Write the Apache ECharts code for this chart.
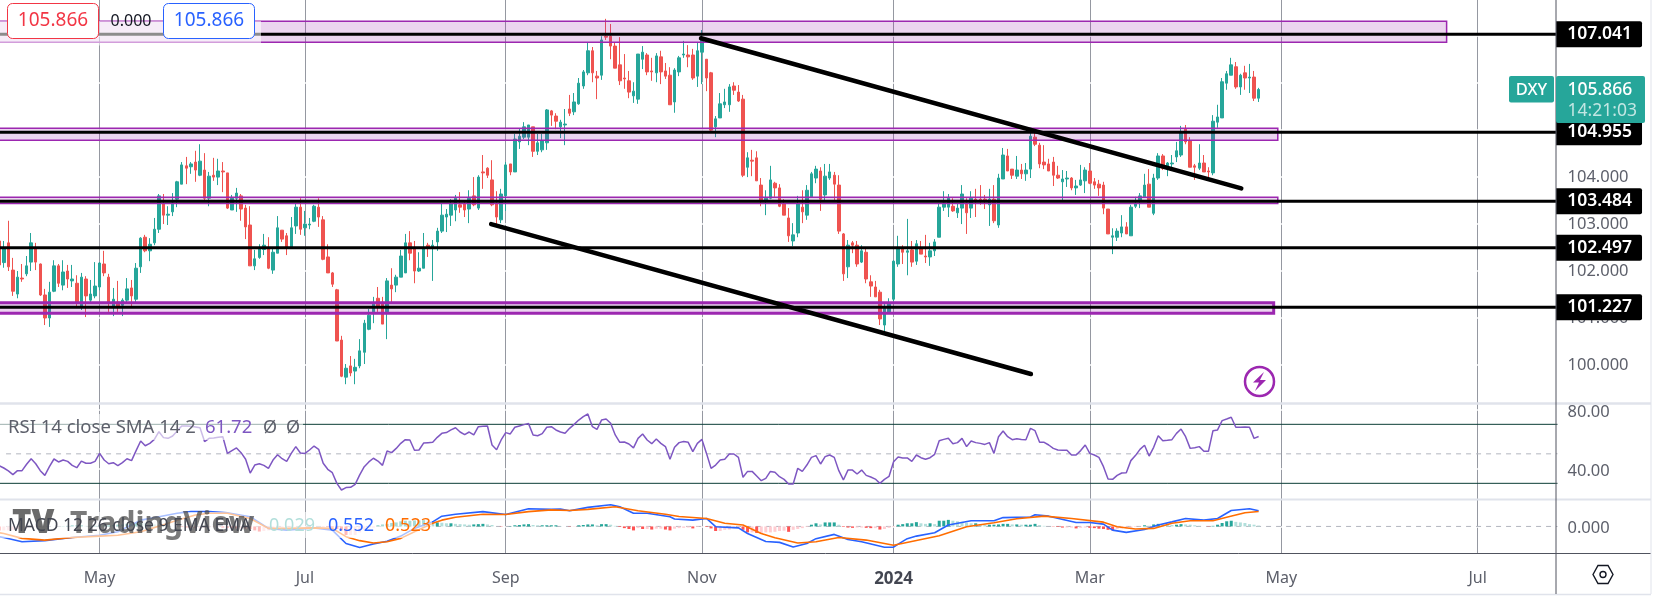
<!DOCTYPE html>
<html><head><meta charset="utf-8">
<style>html,body{margin:0;padding:0;background:#fff}#c{width:1654px;height:600px}</style>
<script src="https://cdn.jsdelivr.net/npm/echarts@6/dist/echarts.min.js"></script>
</head><body><div id="c"></div>
<script>
const slotCount = 342;
const tickIndex = [22,67,111,154,196,239,281,324];
const tickNames = ['May','Jul','Sep','Nov','2024','Mar','May','Jul'];
const priceTicks = [100,101,102,103,104];
const priceGapTicks = [100,101,102,103,104,105,106,107];
const rsiTicks = [40,80];
const rsiLevels = [70,30];
const levelPrices = [107.041,104.955,103.484,102.497,101.227];
// [x-slot start, x-slot end, top price, bottom price, border width]
const zones = [[0,317.7,107.318,106.87,1.5],[0,280.7,105.04,104.784,1.5],[0,280.7,103.57,103.44,1.5],[0,279.8,101.325,101.10,3]];
const trendUpper = [[154.3,106.956],[272.7,103.76]];
const trendLower = [[108.3,103.00],[226.6,99.807]];
// open, close, low, high
const candles = [
[102.64,102.13,102.10,102.75],
[102.18,102.48,102.07,102.64],[102.60,102.09,102.00,103.07],[102.02,101.57,101.47,102.28],[101.51,101.87,101.42,102.00],[101.85,101.83,101.77,102.15],[101.94,102.11,101.89,102.32],[102.19,102.60,102.00,102.81],[102.48,102.19,102.02,102.60],[102.15,101.49,101.47,102.16],[101.49,101.00,100.85,101.62],
[101.00,101.55,100.81,101.77],[101.57,102.11,101.55,102.23],[102.11,101.74,101.66,102.15],[101.70,101.98,101.59,102.23],[102.00,101.83,101.64,102.13],[101.79,101.83,101.66,102.13],[101.74,101.34,101.25,101.91],[101.25,101.87,101.17,101.96],[101.83,101.47,101.02,101.89],[101.38,101.51,101.34,101.81],
[101.47,101.68,101.42,102.19],[101.66,102.17,101.59,102.19],[102.15,101.96,101.89,102.43],[101.87,101.34,101.13,101.94],[101.25,101.40,101.04,101.64],[101.34,101.25,101.13,101.79],[101.27,101.38,101.04,101.42],[101.38,101.62,101.34,101.85],[101.64,101.47,101.25,101.81],[101.40,102.06,101.34,102.17],
[102.09,102.70,101.96,102.72],[102.72,102.43,102.40,102.77],[102.43,102.57,102.21,102.70],[102.60,102.89,102.55,103.13],[102.89,103.60,102.81,103.64],[103.43,103.19,103.00,103.64],[103.19,103.21,102.98,103.38],[103.26,103.45,103.17,103.66],[103.53,103.90,103.36,103.92],[103.85,104.26,103.85,104.32],
[104.24,104.19,103.85,104.43],[104.22,104.28,104.07,104.32],[104.32,104.15,103.90,104.56],[104.04,104.34,104.02,104.70],[104.15,103.55,103.51,104.51],[103.55,104.02,103.38,104.11],[104.04,104.00,103.92,104.41],[104.00,104.13,103.83,104.39],[104.13,104.11,103.68,104.32],[104.09,103.34,103.32,104.09],
[103.30,103.55,103.30,103.62],[103.55,103.66,103.26,103.77],[103.60,103.32,103.07,103.64],[103.34,102.94,102.68,103.41],[102.98,102.11,102.11,103.38],[102.11,102.26,102.02,102.45],[102.29,102.47,102.26,102.57],[102.46,102.55,102.34,102.79],[102.50,102.06,102.04,102.72],[102.02,102.40,101.94,102.49],
[102.38,102.92,102.38,103.17],[102.87,102.68,102.62,102.87],[102.75,102.49,102.34,102.81],[102.51,102.92,102.51,103.15],[102.96,103.36,102.79,103.43],[103.36,102.89,102.77,103.55],[102.92,103.00,102.75,103.28],[102.98,103.00,102.89,103.13],[103.06,103.38,103.04,103.41],[103.36,103.15,102.94,103.55],
[103.09,102.25,102.23,103.17],[102.30,101.96,101.96,102.57],[101.96,101.72,101.66,101.98],[101.60,100.51,100.51,101.62],[100.53,99.76,99.74,100.62],[99.74,99.93,99.59,100.02],[99.98,99.83,99.76,100.19],[99.87,99.95,99.59,100.13],[99.98,100.30,99.93,100.55],[100.27,100.89,100.02,100.96],
[100.76,101.06,100.74,101.19],[101.13,101.30,100.89,101.45],[101.42,101.25,101.13,101.66],[101.34,100.87,100.87,101.45],[101.13,101.79,100.55,101.85],[101.70,101.62,101.34,102.06],[101.70,101.87,101.55,101.92],[101.87,102.32,101.87,102.45],[101.96,102.60,101.96,102.79],[102.60,102.38,102.23,102.85],
[102.49,102.00,101.74,102.64],[102.00,102.06,101.98,102.40],[102.06,102.49,102.06,102.81],[102.55,102.51,102.30,102.60],[102.50,102.55,101.79,102.66],[102.62,102.85,102.43,102.92],[102.85,103.19,102.81,103.43],[103.15,103.21,102.83,103.32],[103.19,103.43,102.96,103.53],[103.30,103.55,103.06,103.62],
[103.41,103.36,103.24,103.68],[103.43,103.30,103.15,103.51],[103.32,103.55,103.02,103.72],[103.60,103.41,103.38,104.00],[103.34,104.00,103.30,104.04],[104.11,104.09,103.75,104.47],[104.19,104.04,103.98,104.21],[103.94,103.41,103.38,104.36],[103.43,103.15,103.00,103.70],[103.09,103.64,103.02,103.75],
[103.60,104.26,103.28,104.32],[104.28,104.11,104.04,104.28],[104.11,104.81,104.11,104.92],[104.75,104.87,104.60,105.04],[104.85,105.07,104.81,105.17],[104.85,105.11,104.68,105.11],[105.07,104.55,104.43,105.07],[104.55,104.73,104.47,104.92],[104.58,104.77,104.53,104.92],[104.73,105.43,104.58,105.45],
[105.41,105.32,105.09,105.43],[105.30,105.19,105.02,105.36],[105.07,105.17,104.83,105.22],[105.11,105.13,104.68,105.45],[105.45,105.36,105.30,105.75],[105.39,105.60,105.32,105.79],[105.56,106.00,105.54,106.11],[105.94,106.24,105.88,106.28],[106.22,106.69,106.17,106.86],[106.69,106.22,106.02,106.77],
[106.15,106.11,105.66,106.26],[106.17,106.92,106.07,107.00],[107.00,106.98,106.92,107.37],[107.00,106.79,106.51,107.26],[106.79,106.32,106.32,106.86],[106.39,106.05,105.96,106.98],[106.11,106.09,105.88,106.62],[106.05,105.81,105.68,106.26],[105.73,105.83,105.58,106.02],[105.66,106.62,105.56,106.62],
[106.51,106.66,106.30,106.79],[106.60,106.24,106.17,106.64],[106.26,106.24,106.05,106.54],[106.22,106.58,106.02,106.64],[106.56,106.24,105.98,106.69],[106.26,106.15,106.09,106.43],[106.17,105.54,105.54,106.34],[105.60,106.28,105.37,106.32],[106.24,106.54,106.15,106.58],[106.60,106.62,106.54,106.90],
[106.60,106.56,106.34,106.81],[106.60,106.11,106.07,106.73],[106.15,106.69,105.92,106.86],[106.66,106.94,105.98,107.13],[106.51,106.11,105.83,106.51],[106.22,105.00,104.98,106.24],[105.07,105.24,104.85,105.30],[105.26,105.56,105.26,105.79],[105.54,105.60,105.47,105.88],[105.54,105.92,105.39,105.98],
[105.94,105.85,105.75,106.02],[105.81,105.62,105.60,105.96],[105.66,104.04,104.00,105.75],[104.21,104.41,104.00,104.53],[104.36,104.34,104.02,104.58],[104.41,103.92,103.92,104.55],[103.83,103.49,103.38,103.98],[103.51,103.55,103.19,103.72],[103.55,103.94,103.53,104.24],[103.87,103.77,103.58,103.90],
[103.77,103.38,103.36,103.85],[103.43,103.19,103.19,103.53],[103.13,102.75,102.62,103.34],[102.64,102.77,102.53,103.02],[102.81,103.43,102.72,103.60],[103.36,103.26,103.02,103.72],[103.19,103.72,103.09,103.83],[103.58,104.07,103.58,104.11],[103.98,104.17,103.87,104.24],[104.13,103.53,103.28,104.21],
[103.62,104.02,103.51,104.28],[103.98,104.11,103.94,104.28],[104.04,103.85,103.51,104.11],[103.83,102.85,102.79,104.04],[102.79,101.94,101.79,102.81],[102.09,102.55,101.85,102.66],[102.60,102.55,102.38,102.64],[102.55,102.15,102.09,102.64],[102.19,102.43,102.17,102.55],[102.40,101.83,101.74,102.47],
[101.77,101.68,101.45,101.91],[101.66,101.45,101.45,101.79],[101.55,100.98,100.85,101.60],[100.85,101.21,100.70,101.30],[101.13,101.30,101.13,101.42],[101.40,102.21,101.36,102.23],[102.15,102.47,102.09,102.75],[102.47,102.40,102.15,102.55],[102.40,102.43,101.91,103.11],[102.45,102.19,102.09,102.64],
[102.21,102.58,102.13,102.66],[102.47,102.36,102.36,102.64],[102.32,102.30,102.17,102.77],[102.30,102.43,102.11,102.60],[102.43,102.62,102.32,102.68],[102.72,103.36,102.72,103.43],[103.36,103.45,103.28,103.70],[103.36,103.55,103.15,103.64],[103.38,103.28,103.26,103.55],[103.24,103.34,103.13,103.43],
[103.34,103.64,103.00,103.83],[103.45,103.24,102.79,103.55],[103.34,103.55,103.13,103.70],[103.53,103.51,103.15,103.75],[103.53,103.51,103.41,103.83],[103.53,103.51,103.32,103.62],[103.41,103.53,102.96,103.75],[103.53,103.07,103.02,103.83],[102.98,103.98,102.92,104.07],[103.96,104.47,103.96,104.62],
[104.45,104.13,104.13,104.60],[104.17,104.04,103.96,104.17],[104.02,104.15,103.96,104.45],[104.15,104.07,103.96,104.28],[104.07,104.15,103.92,104.30],[104.17,104.87,103.98,105.02],[104.85,104.70,104.66,105.00],[104.68,104.28,104.19,104.73],[104.32,104.26,104.17,104.68],[104.28,104.13,104.13,104.39],
[104.32,104.04,103.81,104.43],[104.04,103.98,103.96,104.24],[103.90,103.96,103.51,104.15],[103.96,103.98,103.79,104.13],[103.98,103.77,103.72,104.00],[103.77,103.81,103.62,103.94],[103.83,103.94,103.81,104.26],[103.92,104.15,103.66,104.21],[104.13,103.87,103.85,104.30],[103.90,103.83,103.75,103.98],
[103.85,103.77,103.60,103.94],[103.83,103.34,103.21,103.90],[103.32,102.79,102.79,103.32],[102.72,102.75,102.36,102.91],[102.72,102.85,102.64,102.91],[102.81,102.94,102.72,103.19],[102.94,102.79,102.79,103.04],[102.75,103.36,102.75,103.41],[103.38,103.43,103.34,103.58],[103.51,103.60,103.34,103.66],
[103.58,103.83,103.58,104.07],[103.85,103.36,103.36,104.17],[103.23,103.98,103.19,104.07],[103.98,104.45,103.94,104.51],[104.45,104.19,104.15,104.49],[104.21,104.30,104.02,104.32],[104.28,104.30,104.21,104.47],[104.43,104.56,104.32,104.75],[104.47,104.96,104.43,105.09],[105.02,104.75,104.70,105.11],
[104.77,104.21,104.21,104.85],[104.24,104.21,103.94,104.28],[104.19,104.30,104.15,104.70],[104.30,104.11,104.11,104.47],[104.13,104.11,103.98,104.21],[104.09,105.19,104.04,105.32],[105.17,105.28,105.05,105.54],[105.26,106.03,105.26,106.11],[106.00,106.20,105.86,106.26],[106.17,106.39,106.17,106.54],
[106.35,105.92,105.88,106.45],[105.92,106.17,105.75,106.20],[106.22,106.11,105.86,106.37],[106.11,106.13,105.79,106.41],[106.13,105.68,105.62,106.26],[105.68,105.866,105.60,105.90]
];
const rsi = [
42.0,
40.4,38.4,35.9,38.6,38.6,42.9,46.7,43.3,38.6,35.4,41.3,46.5,44.5,45.8,44.9,42.2,40.6,45.1,43.6,43.6,44.9,50.3,45.8,43.3,44.0,42.0,44.0,46.7,45.4,52.2,
58.7,55.5,57.1,59.8,65.0,61.0,60.5,62.1,65.5,68.9,68.9,68.7,68.2,67.7,58.3,60.5,60.7,61.2,61.6,50.3,52.2,54.0,50.8,46.3,37.0,42.4,43.3,42.2,40.2,45.8,
49.4,46.7,44.9,50.3,54.9,50.6,50.3,52.6,55.3,53.1,43.6,39.5,37.2,30.0,25.5,27.1,27.3,29.3,35.7,41.3,44.5,47.0,45.1,42.2,51.9,50.8,53.7,57.1,59.6,59.4,
52.4,52.6,57.3,57.6,57.8,61.2,63.9,64.4,66.2,67.7,64.8,63.0,64.8,62.8,68.4,68.7,68.9,56.0,52.8,59.4,64.4,63.5,68.0,68.9,69.8,70.5,62.8,62.3,63.7,68.0,
68.4,66.2,64.8,63.9,67.3,70.0,72.9,75.2,77.0,68.4,66.6,72.9,73.6,70.7,62.8,57.8,58.0,56.7,54.0,60.5,63.4,59.4,56.9,60.1,57.1,54.9,46.3,54.4,57.6,58.3,
57.8,51.5,57.1,59.8,50.3,40.2,42.4,45.8,46.3,49.9,49.9,47.6,34.1,38.1,38.1,35.0,31.8,33.4,38.1,37.5,34.5,32.7,29.5,29.5,40.2,38.1,42.4,47.6,48.8,43.1,
48.1,49.2,47.6,38.6,32.3,39.0,39.0,36.3,39.0,35.4,34.3,32.9,30.0,32.7,34.7,44.7,47.9,47.2,47.2,44.9,49.2,47.4,46.3,47.4,49.7,58.9,59.8,60.5,56.9,57.6,
60.5,54.9,58.7,57.6,57.1,56.4,57.6,50.3,61.6,65.5,61.6,59.6,60.3,59.8,59.6,67.3,65.7,57.8,57.8,56.0,53.7,52.6,52.4,52.4,49.2,49.2,52.2,56.0,50.3,49.2,
47.6,41.3,32.9,32.7,35.4,37.0,37.2,45.4,48.8,53.0,55.8,48.5,54.4,62.3,58.9,59.2,59.6,63.9,66.8,61.6,53.7,54.2,54.9,51.7,51.7,65.7,66.2,72.5,73.6,74.8,
68.0,68.0,68.2,68.0,60.5,61.72
];
const macdLine = [[0,-0.36],[1,-0.39],[5,-0.54],[10,-0.50],[16,-0.39],[22,-0.31],[26,-0.19],[31,0.22],[35,0.34],[39,0.46],[42,0.52],[46,0.52],[50,0.48],[55,0.34],[59,-0.07],[63,-0.13],[69,-0.05],[73,-0.13],[76,-0.60],[79,-0.74],[82,-0.62],[85,-0.52],[88,-0.34],[91,-0.07],[95,0.16],[97,0.36],[100,0.43],[106,0.52],[111,0.42],[116,0.62],[121,0.60],[123,0.61],[125,0.55],[129,0.67],[134,0.76],[136,0.69],[139,0.46],[142,0.46],[147,0.34],[148,0.26],[152,0.22],[155,0.28],[157,-0.01],[162,-0.05],[164,-0.25],[168,-0.53],[171,-0.56],[174,-0.72],[177,-0.60],[179,-0.43],[183,-0.28],[186,-0.46],[189,-0.54],[194,-0.73],[196,-0.73],[197,-0.62],[199,-0.43],[201,-0.34],[205,-0.22],[208,0.05],[213,0.20],[218,0.20],[220,0.31],[226,0.33],[227,0.41],[230,0.36],[236,0.14],[239,0.14],[242,0.08],[244,-0.13],[247,-0.21],[251,-0.11],[254,0.05],[257,0.16],[260,0.28],[264,0.22],[267,0.28],[270,0.56],[274,0.62],[276,0.552]];
const signalLine = [[0,-0.22],[1,-0.25],[5,-0.42],[10,-0.48],[16,-0.39],[22,-0.34],[26,-0.31],[31,-0.19],[35,0.01],[39,0.22],[43,0.40],[46,0.46],[50,0.46],[55,0.28],[59,-0.07],[63,-0.07],[69,-0.05],[73,-0.07],[76,-0.36],[79,-0.50],[82,-0.58],[85,-0.54],[88,-0.42],[91,-0.19],[95,0.11],[97,0.22],[100,0.32],[106,0.43],[111,0.42],[116,0.52],[121,0.58],[125,0.56],[129,0.60],[135,0.69],[140,0.55],[146,0.43],[149,0.35],[155,0.28],[159,0.11],[163,0.05],[167,-0.25],[170,-0.40],[175,-0.58],[179,-0.54],[184,-0.39],[190,-0.48],[196,-0.66],[206,-0.33],[212,-0.01],[218,0.13],[223,0.27],[229,0.36],[235,0.28],[242,0.15],[245,-0.01],[249,-0.09],[253,-0.07],[257,0.11],[261,0.20],[266,0.20],[269,0.32],[273,0.48],[276,0.523]];
const histogram = [
-.14,
-.14,-.14,-.12,-.09,-.07,-.06,-.04,-.02,-.01,-.01,0,0,0,.01,.02,.04,.04,.04,.02,.02,.02,
.04,.04,.04,.05,.06,.07,.09,.11,.12,.12,.11,.09,.07,.06,.04,
.02,0,-.01,-.02,-.04,-.05,-.06,-.06,-.05,-.04,-.02,-.02,-.04,-.05,-.06,-.07,-.07,-.08,
-.09,-.14,-.18,-.16,-.14,-.07,-.05,-.04,-.02,-.02,-.01,-.01,0,0,0,0,-.01,-.02,
-.04,-.09,-.14,-.30,-.30,-.30,-.21,-.12,-.07,-.04,
.05,.07,.09,.12,.14,.18,.2,.2,.21,.21,.22,.2,.14,.14,.13,.11,.11,.09,.08,.07,.06,.07,.08,.09,.07,.05,0,-.01,0,.01,.04,.05,.07,.08,.05,.04,.04,.04,
.04,.04,.01,0,-.01,-.01,.04,.05,.07,.07,.04,.08,.08,.06,.02,-.02,-.06,-.09,-.14,-.06,-.09,-.09,-.11,-.08,-.08,-.11,-.14,-.08,-.06,-.05,-.04,-.07,-.02,-.01,-.02,-.07,-.16,-.16,-.12,-.11,-.07,-.06,-.12,-.21,-.21,-.23,-.23,-.21,-.21,-.19,-.16,-.15,-.19,-.12,-.09,-.06,-.02,
.06,.11,.07,.14,.14,.14,.06,-.02,-.04,-.05,-.04,-.04,-.05,-.06,-.06,-.11,-.09,-.05,-.02,.06,.08,.11,.11,.15,.11,.09,.11,.08,.2,.2,.23,.2,.18,.16,.13,.11,.11,.08,.06,.06,.06,.07,.09,.09,.07,.07,.06,.06,.06,.09,.05,.02,0,-.01,-.02,-.04,-.04,-.04,-.07,-.05,-.04,-.05,-.06,-.08,
-.09,-.12,-.14,-.09,-.07,-.07,-.05,-.02,-.01,.04,.02,.07,.09,.07,.06,.05,.06,.08,.07,.06,.04,.02,0,-.01,.02,.06,.12,.18,.2,.16,.14,.12,.08,.06,.029
];

const categories = Array.from({length: slotCount}, (_, i) => String(i));
const font = '"Noto Sans", sans-serif';
const axisColor = '#50535e', labelColor = '#5d606b', up = '#26a69a', down = '#ef5350', purple = '#9c27b0';

const monthMarks = tickIndex.map(i => ({xAxis: i + .5, lineStyle: {color: '#9598a1', width: 1, type: 'solid'}}));
function gaps(ticks) { return ticks.map(v => ({yAxis: v, lineStyle: {color: '#fff', width: 1.5, type: 'solid'}})); }
function backdrop(xi, yi, ticks) {
  return {type: 'line', xAxisIndex: xi, yAxisIndex: yi, data: [], z: 1, silent: true, symbol: 'none',
    markLine: {silent: true, symbol: 'none', label: {show: false}, animation: false, z: 1, data: monthMarks.concat(gaps(ticks))}};
}
function levelLine(xi, yi, v, color, dashed, from) {
  return {type: 'line', xAxisIndex: xi, yAxisIndex: yi, data: [[from, v], [slotCount, v]], symbol: 'none', z: 1, silent: true,
    lineStyle: {color, width: 1, type: dashed ? [5, 5] : 'solid'}};
}
const histColors = histogram.map((v, i) => {
  const p = i ? histogram[i - 1] : 0;
  return v >= 0 ? (v >= p ? up : '#b2dfdb') : (v < p ? '#ff5252' : '#ffcdd2');
});

const series = [
  backdrop(3, 0, priceGapTicks), backdrop(4, 1, rsiTicks), backdrop(5, 2, [0]),
  {type: 'candlestick', xAxisIndex: 0, yAxisIndex: 0, data: candles, barWidth: 3, z: 2,
    itemStyle: {color: up, color0: down, borderColor: up, borderColor0: down, borderWidth: 1}},
  {type: 'line', xAxisIndex: 3, yAxisIndex: 0, data: [], z: 3, silent: true,
    markArea: {silent: true, animation: false, z: 3, data: zones.map(z => [
      {xAxis: z[0], yAxis: z[2], itemStyle: {color: 'rgba(156,39,176,0.2)', borderColor: purple, borderWidth: z[4]}},
      {xAxis: z[1], yAxis: z[3]}])}},
  ...levelPrices.map(p => ({type: 'line', xAxisIndex: 3, yAxisIndex: 0, data: [[0, p], [slotCount - .3, p]], symbol: 'none', z: 4, silent: true,
    lineStyle: {color: '#000', width: 3}, clip: false,
    endLabel: {show: true, distance: 0, formatter: o => o.value[1].toFixed(3), backgroundColor: '#000', color: '#fff', fontFamily: font, fontSize: 17.5, fontWeight: 600,
      padding: [4, 10, 4, 11], borderRadius: [0, 2, 2, 0]}})),
  {type: 'line', xAxisIndex: 3, yAxisIndex: 0, data: trendUpper, symbol: 'none', z: 4, silent: true, lineStyle: {color: '#000', width: 4.5, cap: 'round'}},
  {type: 'line', xAxisIndex: 3, yAxisIndex: 0, data: trendLower, symbol: 'none', z: 4, silent: true, lineStyle: {color: '#000', width: 4.5, cap: 'round'}},
  ...rsiLevels.map(v => levelLine(4, 1, v, '#0b3d36', false, 0)),
  levelLine(4, 1, 50, '#b2b5be', true, 2),
  {type: 'line', xAxisIndex: 1, yAxisIndex: 1, data: rsi, symbol: 'none', z: 3, lineStyle: {color: '#7e57c2', width: 1.5}},
  levelLine(5, 2, 0, '#b2b5be', true, 2),
  {type: 'bar', xAxisIndex: 2, yAxisIndex: 2, data: histogram.map((v, i) => ({value: v, itemStyle: {color: histColors[i]}})), barWidth: 3, z: 2},
  {type: 'line', xAxisIndex: 2, yAxisIndex: 2, data: macdLine, symbol: 'none', z: 3, lineStyle: {color: '#2962ff', width: 1.6}},
  {type: 'line', xAxisIndex: 2, yAxisIndex: 2, data: signalLine, symbol: 'none', z: 3, lineStyle: {color: '#ff6d00', width: 1.6}}
];

const plotLeft = -3.063, plotWidth = 1560.563;
const grids = [{top: 0, height: 403}, {top: 403, height: 96}, {top: 499, height: 54.5}].map(g => Object.assign(g, {left: plotLeft, width: plotWidth, outerBoundsMode: 'none', containLabel: false}));
function catAxis(g, labels) {
  return {type: 'category', gridIndex: g, data: categories, boundaryGap: true,
    axisLine: {show: false}, axisTick: {show: false}, splitLine: {show: false},
    axisLabel: labels ? {show: true, interval: i => tickIndex.includes(i), margin: 17, color: labelColor, fontFamily: font, fontSize: 16,
      formatter: (v, i) => { const n = tickNames[tickIndex.indexOf(i)]; return n === '2024' ? '{b|2024}' : n; },
      rich: {b: {fontWeight: 'bold', fontSize: 17, color: '#434651', fontFamily: font}}} : {show: false}};
}
function valAxis(g) {
  return {type: 'value', gridIndex: g, min: 0, max: slotCount, show: false, splitLine: {show: false}};
}
function priceAxis(g, min, max, ticks, dec, shift) {
  return {type: 'value', gridIndex: g, position: 'right', min, max, scale: true,
    axisLine: {show: false}, axisTick: {show: false, customValues: ticks}, splitLine: {show: false},
    axisLabel: {show: true, customValues: ticks, margin: 10, color: labelColor, fontFamily: font, fontSize: 16.5, formatter: v => '{t|' + v.toFixed(dec) + '}',
      rich: {t: {color: labelColor, fontFamily: font, fontSize: 16.5, padding: [shift, 0, 0, 0]}}}};
}
function hLine(x1, y, x2, color, w) { return {type: 'line', z: 50, silent: true, shape: {x1, y1: y, x2, y2: y}, style: {stroke: color, lineWidth: w}}; }
function vLine(x, y1, y2, color, w) { return {type: 'line', z: 50, silent: true, shape: {x1: x, y1, x2: x, y2}, style: {stroke: color, lineWidth: w}}; }
function txt(x, y, text, fill, size, extra) { return {type: 'text', z: 102, silent: true, x, y, style: {text, fill, font: (extra && extra.weight ? extra.weight + ' ' : '') + size + 'px "Noto Sans"', textAlign: (extra && extra.align) || 'left', textVerticalAlign: 'middle'}}; }
function box(x, y, w, h, fill, stroke, r, z) { return {type: 'rect', z: z || 101, silent: true, shape: {x, y, width: w, height: h, r: r || 0}, style: {fill, stroke: stroke || null, lineWidth: stroke ? 1 : 0}}; }

const graphicEls = [
  hLine(0, 403.5, 1651, '#e0e3eb', 2.5), hLine(0, 499.5, 1651, '#e0e3eb', 2), hLine(0, 594.5, 1651, '#e0e3eb', 1.5),
  hLine(0, 553.5, 1651, axisColor, 1), vLine(1556, 0, 594, axisColor, 1), vLine(1651, 0, 594, '#e0e3eb', 1),
  // pale legend strips
  box(0, 21, 261, 24.5, 'rgba(255,255,255,0.55)', null, 0, 100),
  box(0, 414, 303, 26, 'rgba(255,255,255,0.6)', null, 0, 100),
  box(0, 512, 432, 26, 'rgba(255,255,255,0.6)', null, 0, 100),
  // top-left order boxes
  box(7.5, 3.5, 91, 35, '#fff', '#f23645', 5), box(163.5, 3.5, 91, 35, '#fff', '#2962ff', 5),
  txt(53, 21, '105.866', '#f23645', 19, {align: 'center'}), txt(131, 21, '0.000', '#131722', 16, {align: 'center'}), txt(209, 21, '105.866', '#2962ff', 19, {align: 'center'}),
  // DXY tag and price tag
  box(1509, 76, 45, 26.5, up, null, 2), box(1556, 76, 89, 47, up, null, 2),
  txt(1531.5, 90, 'DXY', '#fff', 16.5, {align: 'center', weight: 500}), txt(1567.5, 90, '105.866', '#fff', 17.5, {weight: 500}), txt(1567.5, 111, '14:21:03', 'rgba(255,255,255,0.72)', 17.5),
  // watermark
  {type: 'text', z: 101, silent: true, x: 12, y: 524, style: {text: 'TV', fill: 'rgba(70,70,70,0.8)', font: '900 33px "Noto Sans"', textVerticalAlign: 'middle'}},
  {type: 'text', z: 101, silent: true, x: 70, y: 524, style: {text: 'TradingView', fill: 'rgba(70,70,70,0.72)', font: 'bold 30px "Noto Sans"', textVerticalAlign: 'middle'}},
  // pane legends
  txt(8, 428, 'RSI 14 close SMA 14 2', labelColor, 18.5), txt(205, 428, '61.72', '#7e57c2', 18.5), txt(263, 428, '\u00d8', labelColor, 18), txt(286, 428, '\u00d8', labelColor, 18),
  txt(8, 526, 'MACD 12 26 close 9 EMA EMA', '#434651', 17.5), txt(269, 526, '0.029', '#b2dfdb', 18), txt(328, 526, '0.552', '#2962ff', 18), txt(385, 526, '0.523', '#ff6d00', 18),
  // lightning badge
  {type: 'circle', z: 60, silent: true, shape: {cx: 1259.5, cy: 381.5, r: 14.5}, style: {fill: '#fff', stroke: purple, lineWidth: 2.5}},
  {type: 'polygon', z: 61, silent: true, shape: {points: [[1264, 372], [1253, 382.5], [1259, 382.5], [1255, 391], [1266, 380], [1260, 380]]}, style: {fill: purple}},
  // settings hexagon
  {type: 'polygon', z: 61, silent: true, shape: {points: [[1593, 574.5], [1598, 565.5], [1608, 565.5], [1613, 574.5], [1608, 583.5], [1598, 583.5]]}, style: {fill: '#fff', stroke: '#131722', lineWidth: 1.4}},
  {type: 'circle', z: 61, silent: true, shape: {cx: 1603, cy: 574.5, r: 3}, style: {fill: '#fff', stroke: '#131722', lineWidth: 1.4}}
];

const chart = echarts.init(document.getElementById('c'), null, {renderer: 'canvas'});
chart.setOption({
  animation: false, backgroundColor: '#fff',
  grid: grids,
  xAxis: [catAxis(0, false), catAxis(1, false), catAxis(2, true), valAxis(0), valAxis(1), valAxis(2)],
  yAxis: [priceAxis(0, 99.19, 107.771, priceTicks, 3, 1), priceAxis(1, 19.38, 84.47, rsiTicks, 2, 6), priceAxis(2, -0.951, 0.963, [0], 3, 4)],
  series, graphic: {elements: graphicEls}
});
</script></body></html>
